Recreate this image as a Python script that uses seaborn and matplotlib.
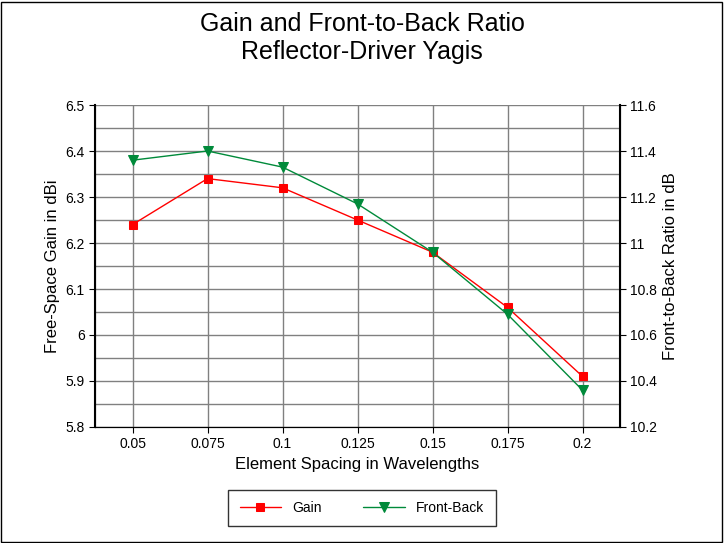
import matplotlib
matplotlib.use("Agg")
import matplotlib.pyplot as plt
import seaborn as sns
import pandas as pd
import numpy as np

spacing = ["0.05", "0.075", "0.1", "0.125", "0.15", "0.175", "0.2"]
gain = [6.24, 6.34, 6.32, 6.25, 6.18, 6.06, 5.91]
front_back = [11.36, 11.40, 11.33, 11.17, 10.96, 10.69, 10.36]

df = pd.DataFrame({"x": np.arange(len(spacing)), "gain": gain, "fb": front_back})

sns.set_style("white")
plt.rcParams["font.family"] = ["Liberation Sans", "DejaVu Sans"]
plt.rcParams["text.color"] = "black"
plt.rcParams["axes.labelcolor"] = "black"
plt.rcParams["xtick.color"] = "black"
plt.rcParams["ytick.color"] = "black"

fig = plt.figure(figsize=(7.24, 5.43), dpi=100)
fig.patches.append(plt.Rectangle((0.002, 0.002), 0.995, 0.995, transform=fig.transFigure,
                                 fill=False, edgecolor="black", linewidth=1))
ax = fig.add_axes([95 / 724, 1 - 427 / 543, 525 / 724, 322 / 543])
ax2 = ax.twinx()

sns.lineplot(data=df, x="x", y="gain", ax=ax, color="red", marker="s", markersize=6,
             markeredgecolor="red", linewidth=1, label="Gain", legend=False)
sns.lineplot(data=df, x="x", y="fb", ax=ax2, color="#008a3a", marker="v", markersize=7,
             markeredgecolor="#008a3a", linewidth=1, label="Front-Back", legend=False)

ax.set_xlim(-0.5, len(spacing) - 0.5)
ax.set_xticks(df["x"])
ax.set_xticklabels(spacing)
ax.set_ylim(5.8, 6.5)
ax.set_yticks(np.arange(5.8, 6.51, 0.1))
ax.set_yticklabels(["5.8", "5.9", "6", "6.1", "6.2", "6.3", "6.4", "6.5"])
ax.set_yticks(np.arange(5.8, 6.51, 0.05), minor=True)
ax.tick_params(axis="y", which="minor", length=0)
ax2.set_ylim(10.2, 11.6)
ax2.set_yticks(np.arange(10.2, 11.61, 0.2))
ax2.set_yticklabels(["10.2", "10.4", "10.6", "10.8", "11", "11.2", "11.4", "11.6"])

ax.grid(True, which="both", axis="y", color="#808080", linewidth=1)
ax.grid(True, axis="x", color="#808080", linewidth=1)
ax.set_axisbelow(True)
for a in (ax, ax2):
    for s in a.spines.values():
        s.set_color("black")
    a.tick_params(which="major", labelsize=10, length=4, direction="out", color="black")
ax.tick_params(axis="y", left=True, which="major")
ax.tick_params(axis="x", bottom=True)
ax2.tick_params(axis="y", right=True)
ax.spines["left"].set_linewidth(1.5)
ax2.spines["right"].set_linewidth(1.5)
ax.spines["top"].set_visible(False)
ax2.spines["top"].set_visible(False)

ax.set_xlabel("Element Spacing in Wavelengths", fontsize=12)
ax.set_ylabel("Free-Space Gain in dBi", fontsize=12)
ax2.set_ylabel("Front-to-Back Ratio in dB", fontsize=12)
fig.text(0.5, 0.93, "Gain and Front-to-Back Ratio\nReflector-Driver Yagis", ha="center",
         va="center", fontsize=18, linespacing=1.2)

h1, l1 = ax.get_legend_handles_labels()
h2, l2 = ax2.get_legend_handles_labels()
fig.legend(h1 + h2, l1 + l2, loc="center", bbox_to_anchor=(0.5, 1 - 508 / 543), ncol=2,
           frameon=True, fancybox=False, edgecolor="black", fontsize=10,
           handlelength=3, columnspacing=3, borderpad=0.8)

fig.savefig("out.png", dpi=100)
